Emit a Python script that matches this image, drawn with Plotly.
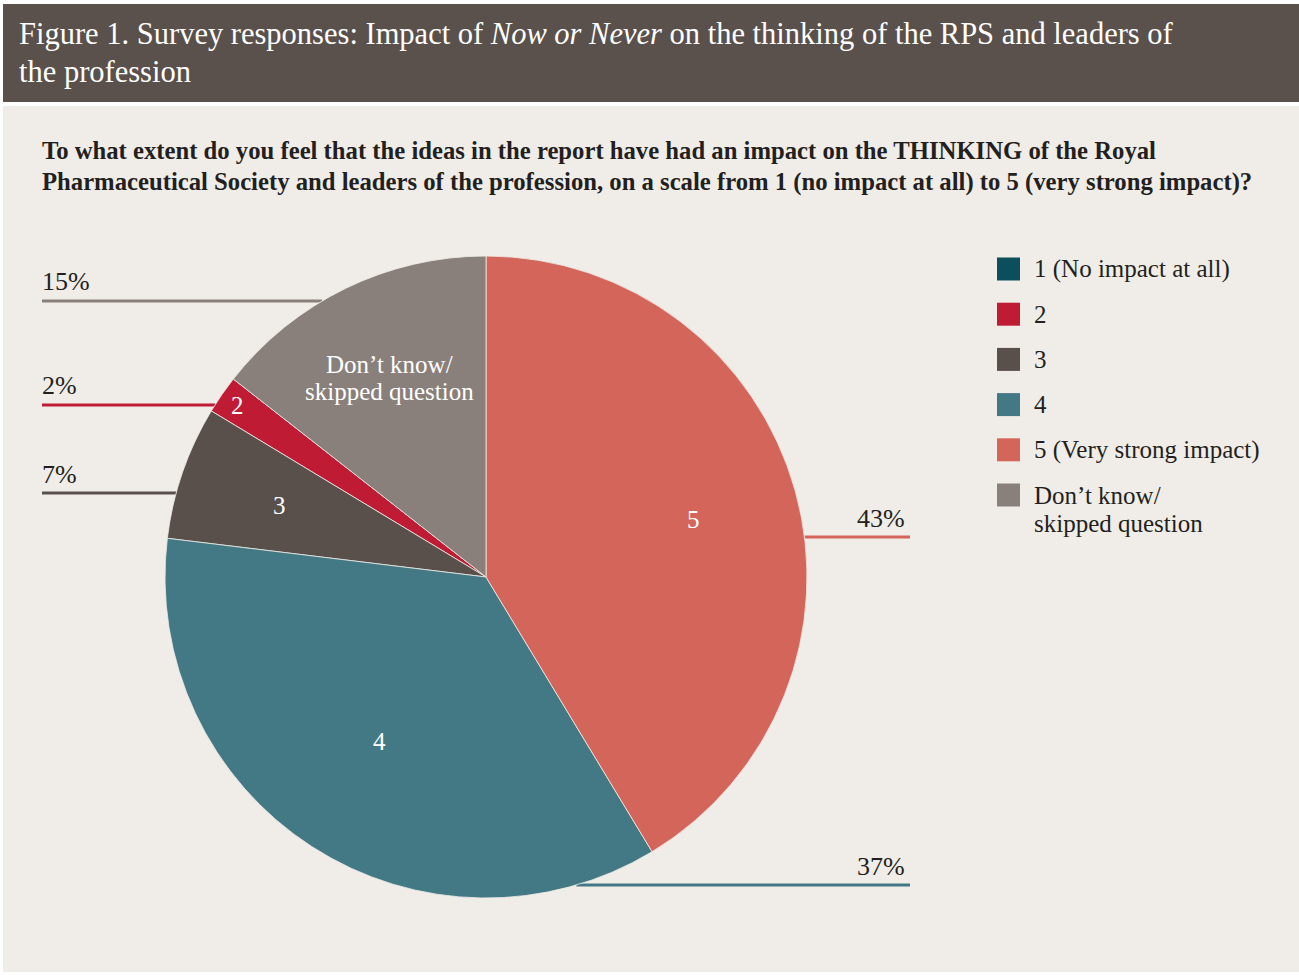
import math
import plotly.graph_objects as go

# Survey answers, in legend order
categories = ["1 (No impact at all)", "2", "3", "4", "5 (Very strong impact)",
              "Don’t know/<br>skipped question"]
slice_labels = ["1", "2", "3", "4", "5", "Don’t know/<br>skipped question"]
shares = [0, 2, 7, 37, 43, 15]  # percent of respondents
colors = ["#0b4f5c", "#c01b34", "#59504c", "#437985", "#d4655b", "#8a807b"]

W, H = 1299, 975
FONT = "Liberation Serif, Times New Roman, serif"
INK = "#231f20"
BEIGE = "#f0ede8"

# pie geometry (pixels)
CX, CY, R = 486, 577, 321


def px(x):
    return x / W


def py(y):
    return 1 - y / H


def text_lines(text, x, y, step, size, color, anchor="left", bold=False):
    """Stack the <br>-separated lines of a label at a fixed line pitch."""
    parts = text.split("<br>")
    y0 = y - step * (len(parts) - 1) / 2
    out = []
    for k, p in enumerate(parts):
        out.append(dict(text=f"<b>{p}</b>" if bold else p, x=px(x), y=py(y0 + step * k),
                        xref="paper", yref="paper", xanchor=anchor, yanchor="middle",
                        showarrow=False, font=dict(family=FONT, size=size, color=color)))
    return out


total = sum(shares)

fig = go.Figure()
fig.add_trace(go.Pie(
    labels=categories,
    values=shares,
    marker=dict(colors=colors, line=dict(color=BEIGE, width=0.8)),
    sort=False,
    direction="counterclockwise",
    rotation=-360 * shares[-1] / total,
    textinfo="none",
    hoverinfo="label+value",
    showlegend=False,
    domain=dict(x=[px(CX - R), px(CX + R)], y=[py(CY + R), py(CY - R)]),
))

shapes = []
annotations = []

# header band and panel
shapes.append(dict(type="rect", xref="paper", yref="paper", x0=px(3), x1=1, y0=py(102), y1=py(4),
                   fillcolor="#5a514d", line=dict(width=0), layer="below"))
shapes.append(dict(type="rect", xref="paper", yref="paper", x0=px(3), x1=1, y0=py(972), y1=py(106),
                   fillcolor=BEIGE, line=dict(width=0), layer="below"))

title = ("Figure 1. Survey responses: Impact of <i>Now or Never</i> on the thinking of the RPS and leaders of"
         "<br>the profession")
annotations += text_lines(title, 17, 53, 38, 30.5, "white")

question = ("To what extent do you feel that the ideas in the report have had an impact on the THINKING of the Royal"
            "<br>Pharmaceutical Society and leaders of the profession, on a scale from 1 (no impact at all) to 5 (very strong impact)?")
annotations += text_lines(question, 40, 166, 32, 24.7, INK, bold=True)

# labels inside the slices, placed along each slice's bisector
label_radius = {"2": 0.94, "3": 0.68, "4": 0.61, "5": 0.67}
cum = 0.0
start = 360 - 360 * shares[-1] / total
for lab, v in zip(slice_labels, shares):
    span = 360 * v / total
    if v > 0:
        mid = math.radians(start - cum - span / 2)
        f = label_radius.get(lab, 0.69)
        x = CX + R * f * math.sin(mid)
        y = CY - R * f * math.cos(mid)
        annotations += text_lines(lab, x, y, 27, 25, "white", anchor="center")
    cum += span

# leader lines with percentage labels (side, line height in px)
leaders = {"Don’t know/<br>skipped question": ("left", 301), "2": ("left", 405),
           "3": ("left", 493), "5 (Very strong impact)": ("right", 537), "4": ("right", 885)}
for cat, v, c in zip(categories, shares, colors):
    if cat not in leaders:
        continue
    side, ly = leaders[cat]
    dx = math.sqrt(R ** 2 - (ly - CY) ** 2)
    if side == "left":
        x0, x1 = 42, CX - dx
        ax, anchor = 40, "left"
    else:
        x0, x1 = CX + dx, 910
        ax, anchor = 907, "right"
    shapes.append(dict(type="line", xref="paper", yref="paper", x0=px(x0), x1=px(x1),
                       y0=py(ly), y1=py(ly), line=dict(color=c, width=3), layer="below"))
    annotations += text_lines(f"{v}%", ax, ly - 19, 0, 26, INK, anchor=anchor)

# legend
for i, (cat, c) in enumerate(zip(categories, colors)):
    yc = 269 + 45.2 * i
    shapes.append(dict(type="rect", xref="paper", yref="paper", x0=px(997), x1=px(1020),
                       y0=py(yc + 11.5), y1=py(yc - 11.5), fillcolor=c, line=dict(width=0)))
    n = cat.count("<br>")
    annotations += text_lines(cat, 1032, yc + 14 * n, 28, 25, INK)

fig.update_layout(
    width=W, height=H,
    margin=dict(l=0, r=0, t=0, b=0),
    paper_bgcolor="white",
    plot_bgcolor="white",
    shapes=shapes,
    annotations=annotations,
)

fig.write_html("out.html")
